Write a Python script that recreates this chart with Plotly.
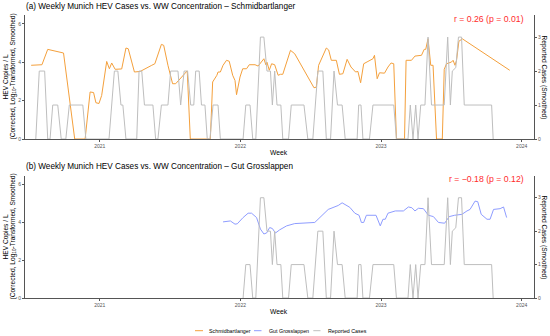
import plotly.graph_objects as go

# ---------------- data ----------------
schmid_dates = [
    "2020-07-07", "2020-08-04", "2020-08-19", "2020-09-29", "2020-10-28", "2020-11-24", "2020-12-07", "2020-12-16", "2020-12-22", "2020-12-30",
    "2021-01-06", "2021-01-19", "2021-01-26", "2021-02-01", "2021-02-10", "2021-02-27", "2021-03-10", "2021-03-16", "2021-04-01", "2021-04-16",
    "2021-05-16", "2021-05-24", "2021-06-10", "2021-06-16", "2021-06-27", "2021-07-09", "2021-07-17", "2021-07-28", "2021-08-16", "2021-08-24",
    "2021-10-15", "2021-10-21", "2021-11-01", "2021-11-04", "2021-11-10", "2021-11-17", "2021-11-26", "2021-12-03", "2021-12-12", "2021-12-18",
    "2021-12-22", "2021-12-31", "2022-01-07", "2022-01-17", "2022-01-24", "2022-02-08", "2022-02-16", "2022-03-03", "2022-03-08", "2022-03-11",
    "2022-03-17", "2022-03-23", "2022-03-31", "2022-04-09", "2022-04-15", "2022-04-21", "2022-05-11", "2022-05-22", "2022-07-11", "2022-07-17",
    "2022-07-23", "2022-08-12", "2022-08-18", "2022-08-25", "2022-09-07", "2022-09-15", "2022-09-24", "2022-10-05", "2022-10-15", "2022-10-27",
    "2022-11-02", "2022-11-09", "2022-11-17", "2022-11-28", "2022-12-11", "2022-12-15", "2022-12-22", "2022-12-28", "2023-01-10", "2023-01-19",
    "2023-01-27", "2023-02-03", "2023-02-10", "2023-03-03", "2023-03-07", "2023-03-21", "2023-03-30", "2023-04-16", "2023-04-23", "2023-04-27",
    "2023-05-03", "2023-05-10", "2023-05-16", "2023-05-25", "2023-06-09", "2023-06-14", "2023-06-20", "2023-07-03", "2023-07-07", "2023-07-12",
    "2023-07-16", "2023-07-22", "2023-07-31", "2023-12-01",
]
schmid_vals = [
    3.84, 3.87, 4.67, 4.48, 0.00, 0.00, 2.45, 2.42, 1.89, 1.85,
    2.27, 4.04, 3.66, 3.96, 3.63, 3.65, 4.74, 4.70, 3.49, 3.52,
    3.84, 3.92, 4.93, 4.88, 3.84, 2.88, 2.88, 3.14, 3.55, 0.00,
    0.00, 2.97, 3.32, 3.49, 3.49, 3.84, 4.10, 4.05, 3.32, 3.05,
    2.31, 3.23, 3.66, 3.66, 3.87, 3.87, 3.80, 4.18, 3.87, 4.00,
    3.58, 3.92, 3.87, 3.32, 3.37, 3.37, 4.62, 4.44, 2.67, 2.70,
    3.84, 4.74, 4.64, 4.10, 4.10, 3.37, 3.40, 4.15, 3.75, 3.49,
    3.52, 2.93, 3.92, 4.04, 4.18, 4.36, 3.14, 3.45, 3.43, 3.75,
    3.96, 3.92, 0.00, 0.00, 4.10, 4.10, 4.32, 4.36, 4.67, 4.67,
    5.22, 3.84, 3.84, 0.00, 0.00, 3.63, 3.92, 4.01, 4.10, 3.84,
    4.10, 5.09, 5.22, 3.58,
]

grossl_dates = [
    "2021-11-17", "2021-12-06", "2021-12-18", "2021-12-24", "2022-01-08", "2022-01-21", "2022-01-30", "2022-02-12", "2022-02-22", "2022-03-03",
    "2022-03-10", "2022-03-18", "2022-03-25", "2022-04-02", "2022-04-13", "2022-05-01", "2022-05-22", "2022-07-13", "2022-08-17", "2022-09-12",
    "2022-09-22", "2022-10-04", "2022-10-12", "2022-10-25", "2022-11-05", "2022-11-11", "2022-11-17", "2022-11-24", "2022-12-19", "2022-12-30",
    "2023-01-06", "2023-01-12", "2023-01-19", "2023-02-07", "2023-02-28", "2023-03-13", "2023-03-22", "2023-03-30", "2023-04-08", "2023-04-21",
    "2023-05-04", "2023-05-17", "2023-05-30", "2023-06-15", "2023-06-27", "2023-07-11", "2023-07-30", "2023-08-12", "2023-08-20", "2023-09-02",
    "2023-09-09", "2023-09-18", "2023-10-03", "2023-10-11", "2023-10-20", "2023-11-06", "2023-11-15", "2023-11-23",
]
grossl_vals = [
    4.03, 4.08, 3.91, 3.93, 4.26, 4.49, 4.49, 4.26, 3.65, 3.39,
    3.44, 3.73, 3.68, 3.44, 3.61, 3.82, 3.94, 4.00, 4.69, 4.90,
    5.04, 4.87, 4.80, 4.49, 4.38, 4.00, 4.00, 4.38, 4.38, 3.82,
    4.17, 4.17, 4.49, 4.61, 4.61, 4.82, 4.78, 4.61, 4.75, 4.73,
    4.38, 4.31, 4.00, 3.96, 4.31, 4.38, 4.43, 4.61, 4.69, 5.13,
    5.10, 4.43, 4.17, 4.17, 4.69, 4.73, 4.82, 4.26,
]

case_dates = [
    "2020-07-19", "2020-07-28", "2020-08-11", "2020-08-19", "2020-08-25", "2020-09-01", "2020-09-14", "2020-09-23", "2020-10-05", "2020-10-14",
    "2020-11-18", "2020-11-26", "2021-01-25", "2021-02-08", "2021-02-17", "2021-02-25", "2021-03-02", "2021-03-10", "2021-04-07", "2021-04-13",
    "2021-04-20", "2021-04-27", "2021-05-19", "2021-05-26", "2021-06-01", "2021-06-10", "2021-06-27", "2021-07-04", "2021-07-23", "2021-07-30",
    "2021-08-08", "2021-08-17", "2021-08-25", "2021-09-02", "2021-09-07", "2021-09-16", "2021-09-22", "2021-10-01", "2021-10-07", "2021-10-14",
    "2021-10-22", "2021-11-04", "2021-11-10", "2022-01-08", "2022-01-15", "2022-01-26", "2022-02-02", "2022-02-10", "2022-02-22", "2022-03-03",
    "2022-03-11", "2022-03-20", "2022-03-25", "2022-03-31", "2022-04-06", "2022-04-16", "2022-04-21", "2022-05-06", "2022-05-13", "2022-06-15",
    "2022-06-25", "2022-07-08", "2022-07-21", "2022-08-03", "2022-08-12", "2022-08-23", "2022-09-01", "2022-09-10", "2022-09-22", "2022-09-30",
    "2022-10-31", "2022-11-04", "2022-11-10", "2022-11-15", "2022-12-02", "2022-12-11", "2023-02-03", "2023-02-10", "2023-03-12", "2023-03-18",
    "2023-03-25", "2023-04-01", "2023-04-07", "2023-04-14", "2023-04-25", "2023-05-03", "2023-05-12", "2023-06-14", "2023-06-23", "2023-06-30",
    "2023-07-05", "2023-07-14", "2023-07-21", "2023-07-29", "2023-08-05", "2023-10-15", "2023-10-19",
]
case_vals = [
    0, 2, 2, 0, 0, 1, 1, 0, 0, 1,
    1, 0, 0, 2, 2, 1, 1, 0, 0, 2,
    2, 1, 1, 0, 0, 1, 1, 2, 2, 1,
    2, 2, 1, 1, 2, 2, 1, 1, 0, 0,
    1, 1, 0, 0, 1, 1, 0, 0, 3, 3,
    2, 2, 1, 2, 1, 1, 0, 0, 1, 1,
    0, 0, 2, 2, 0, 0, 2, 1, 1, 0,
    0, 1, 1, 0, 0, 1, 1, 0, 0, 1,
    0, 1, 0, 1, 1, 3, 1, 1, 3, 1,
    2, 2.1, 3, 3, 1, 1, 0,
]
cases_start_b = "2022-01-01"

year_ticks = ["2021-01-01", "2022-01-01", "2023-01-01", "2024-01-01"]
year_labels = ["2021", "2022", "2023", "2024"]
left_ticks = [0, 2, 4, 6]
right_ticks = [0, 1, 2, 3]

title_a = "(a) Weekly Munich HEV Cases vs. WW Concentration \u2013 Schmidbartlanger"
title_b = "(b) Weekly Munich HEV Cases vs. WW Concentration \u2013 Gut Grosslappen"
corr_a = "r = 0.26 (p = 0.01)"
corr_b = "r = \u22120.18 (p = 0.12)"
series_names = ["Schmidbartlanger", "Gut Grosslappen", "Reported Cases"]

# ---------------- style ----------------
W, H = 550, 336
C_OR = "#F4A03C"
C_BL = "#8E9CFF"
C_GR = "#BEBEBE"
AX = "#555555"
FONT = "Liberation Sans, Arial, sans-serif"

def fx(p):
    return p / W

def fy(p):
    return 1 - p / H

xdom = [fx(25), fx(534)]
top_dom = [fy(139), fy(15)]
bot_dom = [fy(298), fy(176)]
xrange_ = ["2020-06-21", "2024-02-02"]

fig = go.Figure()
fig.add_trace(go.Scatter(x=schmid_dates, y=schmid_vals, mode="lines",
                         line=dict(color=C_OR, width=1), xaxis="x", yaxis="y"))
fig.add_trace(go.Scatter(x=case_dates, y=case_vals, mode="lines",
                         line=dict(color=C_GR, width=1), xaxis="x", yaxis="y2"))

cb = [(d, v) for d, v in zip(case_dates, case_vals) if d >= cases_start_b]
fig.add_trace(go.Scatter(x=grossl_dates, y=grossl_vals, mode="lines",
                         line=dict(color=C_BL, width=1), xaxis="x2", yaxis="y3"))
fig.add_trace(go.Scatter(x=[d for d, _ in cb], y=[v for _, v in cb], mode="lines",
                         line=dict(color=C_GR, width=1), xaxis="x2", yaxis="y4"))

tickfont = dict(size=5, color="#555555", family=FONT)
common_x = dict(type="date", range=xrange_, tickvals=year_ticks, ticktext=year_labels,
                showgrid=False, zeroline=False, showline=True, linecolor=AX, linewidth=1,
                ticks="outside", ticklen=2, tickcolor=AX, tickwidth=1, tickfont=tickfont,
                automargin=False, domain=xdom, fixedrange=True)
common_yl = dict(range=[0, 6.46], tickvals=left_ticks, showgrid=False, zeroline=False,
                 showline=True, linecolor=AX, linewidth=1, ticks="outside", ticklen=2,
                 tickcolor=AX, tickfont=tickfont, automargin=False, fixedrange=True)
common_yr = dict(range=[0, 3.65], tickvals=right_ticks, showgrid=False, zeroline=False,
                 showline=True, linecolor=AX, linewidth=1, ticks="outside", ticklen=2,
                 tickcolor=AX, tickfont=tickfont, automargin=False, side="right", fixedrange=True)

fig.update_layout(
    template="none",
    width=W, height=H,
    margin=dict(l=0, r=0, t=0, b=0),
    paper_bgcolor="white", plot_bgcolor="white",
    showlegend=False,
    hovermode=False,
    font=dict(family=FONT, color="black"),
    xaxis=dict(common_x, anchor="y"),
    yaxis=dict(common_yl, domain=top_dom, anchor="x"),
    yaxis2=dict(common_yr, overlaying="y", anchor="x"),
    xaxis2=dict(common_x, anchor="y3"),
    yaxis3=dict(common_yl, domain=bot_dom, anchor="x2"),
    yaxis4=dict(common_yr, overlaying="y3", anchor="x2"),
)

ann = []

def text(x, y, s, size, color="black", xa="center", ya="middle", angle=0):
    ann.append(dict(x=fx(x), y=fy(y), xref="paper", yref="paper", text=s, showarrow=False,
                    xanchor=xa, yanchor=ya, textangle=angle,
                    font=dict(size=size, color=color, family=FONT)))

ytitle1 = "HEV Copies / L"
ytitle2 = "(Corrected, Log<sub>10</sub>-Transformed, Smoothed)"
ytitle_r = "Reported Cases (Smoothed)"

for (ttl, corr, ty, cy, wy, mid) in [(title_a, corr_a, 6, 19, 152.5, 77),
                                      (title_b, corr_b, 166, 178.5, 311, 237)]:
    text(24, ty, ttl, 8.2, xa="left")
    text(526, cy, corr, 8.7, color="#FF2B2B", xa="right")
    text(279, wy, "Week", 6.7)
    text(5.5, mid, ytitle1, 6.6, angle=-90)
    text(12.5, mid, ytitle2, 6.6, angle=-90)
    text(543.5, mid, ytitle_r, 6.6, angle=90)

# legend
leg_y = 330.7
shapes = []
for (x0, x1, tx, col, name) in [(195, 203, 207.3, C_OR, series_names[0]),
                                (254, 261.5, 266.7, C_BL, series_names[1]),
                                (313.3, 320.5, 325.7, C_GR, series_names[2])]:
    shapes.append(dict(type="line", xref="paper", yref="paper", x0=fx(x0), x1=fx(x1),
                       y0=fy(leg_y), y1=fy(leg_y), line=dict(color=col, width=1)))
    text(tx, leg_y, name, 5.3, xa="left")

fig.update_layout(annotations=ann, shapes=shapes)
fig.write_html("out.html",
               config={"displayModeBar": False, "staticPlot": True},
               post_script="document.body.style.margin='0';document.body.style.padding='0';"
                           "document.body.style.overflow='hidden';")
